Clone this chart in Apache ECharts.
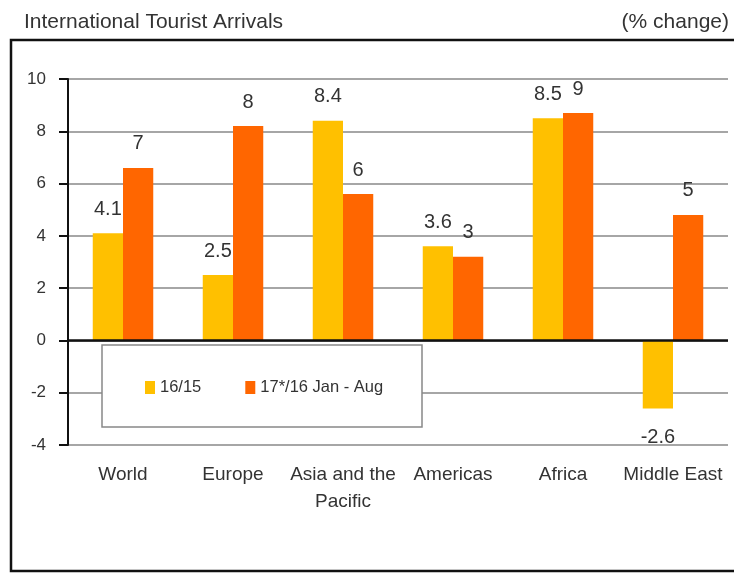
<!DOCTYPE html>
<html><head><meta charset="utf-8">
<script src="https://cdn.jsdelivr.net/npm/echarts@6/dist/echarts.min.js"></script>
<style>html,body{margin:0;padding:0;background:#fff}#c{width:734px;height:574px}</style>
</head><body><div id="c"></div>
<script>
const categories = ['World', 'Europe', 'Asia and the\nPacific', 'Americas', 'Africa', 'Middle East'];
const series1Name = '16/15';
const series2Name = '17*/16 Jan - Aug';
const series1 = [4.1, 2.5, 8.4, 3.6, 8.5, -2.6];
const series2 = [6.6, 8.2, 5.6, 3.2, 8.7, 4.8];
const yMin = -4, yMax = 10, yStep = 2;

const FONT = 'Liberation Sans, Arial, sans-serif';
function mk(vals, fmt) {
  return vals.map(v => ({
    value: v,
    label: { position: v < 0 ? 'bottom' : 'top', distance: v < 0 ? 19 : 14, formatter: () => fmt(v) }
  }));
}
const chart = echarts.init(document.getElementById('c'), null, { renderer: 'canvas' });
chart.setOption({
  animation: false,
  backgroundColor: '#fff',
  textStyle: { fontFamily: FONT },
  title: [
    { text: 'International Tourist Arrivals', left: 19, top: 7, textStyle: { fontSize: 21, fontWeight: 'normal', color: '#333', fontFamily: FONT } },
    { text: '(% change)', right: 0, top: 7, textStyle: { fontSize: 21, fontWeight: 'normal', color: '#333', fontFamily: FONT } }
  ],
  graphic: [
    { type: 'rect', shape: { x: 11, y: 40, width: 740, height: 531 }, style: { fill: 'none', stroke: '#111', lineWidth: 2.5 }, z: 100 },
    { type: 'rect', shape: { x: 102, y: 345, width: 320, height: 82 }, style: { fill: '#fff', stroke: '#888', lineWidth: 1.5 }, z: 10 }
  ],
  grid: { left: 68, right: 6, top: 79, bottom: 129 },
  legend: {
    left: 145, top: 379, orient: 'horizontal',
    padding: 0,
    itemGap: 44, itemWidth: 10, itemHeight: 13,
    icon: 'rect',
    textStyle: { fontSize: 16.5, color: '#333', fontFamily: FONT },
    data: [series1Name, series2Name],
    z: 20
  },
  xAxis: {
    type: 'category', data: categories,
    axisLine: { show: false }, axisTick: { show: false },
    axisLabel: { interval: 0, margin: 16, fontSize: 19, color: '#333', lineHeight: 27, fontFamily: FONT }
  },
  yAxis: {
    type: 'value', min: yMin, max: yMax, interval: yStep,
    axisLine: { show: true, lineStyle: { color: '#111', width: 2 } },
    axisTick: { show: true, length: 9, lineStyle: { color: '#111', width: 2 } },
    axisLabel: { fontSize: 17, color: '#333', margin: 22, fontFamily: FONT },
    splitLine: { lineStyle: { color: '#888', width: 1.5 } }
  },
  series: [
    {
      name: series1Name, type: 'bar', data: mk(series1, v => v.toFixed(1)),
      itemStyle: { color: '#FFC000' }, barGap: '0%', barCategoryGap: '45%',
      label: { show: true, fontSize: 20, color: '#333', fontFamily: FONT },
      markLine: { silent: true, symbol: ['none', 'none'], label: { show: false },
        lineStyle: { color: '#111', width: 2.5, type: 'solid' }, data: [{ yAxis: 0 }] }
    },
    {
      name: series2Name, type: 'bar', data: mk(series2, v => String(Math.round(v))),
      itemStyle: { color: '#FF6600' }, barGap: '0%', barCategoryGap: '45%',
      label: { show: true, fontSize: 20, color: '#333', fontFamily: FONT }
    }
  ]
});
</script></body></html>
